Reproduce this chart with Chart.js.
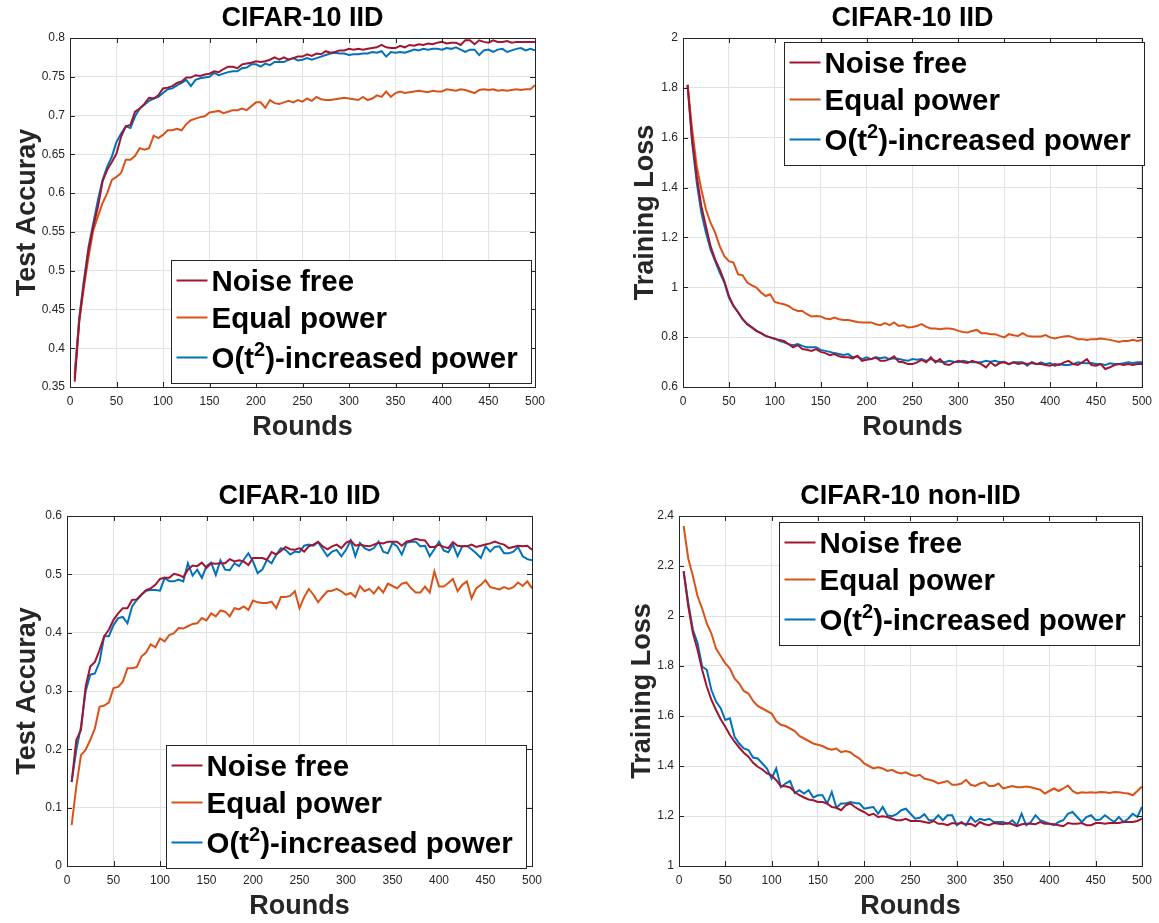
<!DOCTYPE html>
<html>
<head>
<meta charset="utf-8">
<title>CIFAR-10 power allocation curves</title>
<script src="https://cdn.jsdelivr.net/npm/chart.js@4.4.1/dist/chart.umd.min.js"></script>
<style>
  html, body { margin: 0; padding: 0; background: #ffffff; }
  #page { position: relative; width: 1159px; height: 923px; overflow: hidden; background: #ffffff; }
  .panel { position: absolute; }
</style>
</head>
<body>
<div id="page">
  <div class="panel" style="left:0px;top:0px;width:580px;height:444px"><canvas id="accIidChart"></canvas></div>
  <div class="panel" style="left:618px;top:0px;width:541px;height:444px"><canvas id="lossIidChart"></canvas></div>
  <div class="panel" style="left:0px;top:478px;width:580px;height:445px"><canvas id="accIid2Chart"></canvas></div>
  <div class="panel" style="left:615px;top:478px;width:544px;height:445px"><canvas id="lossNonIidChart"></canvas></div>
</div>
<script>
// ---- Data ----
const rounds = [5,10,15,20,25,30,35,40,45,50,55,60,65,70,75,80,85,90,95,100,
  105,110,115,120,125,130,135,140,145,150,155,160,165,170,175,180,185,190,195,200,
  205,210,215,220,225,230,235,240,245,250,255,260,265,270,275,280,285,290,295,300,
  305,310,315,320,325,330,335,340,345,350,355,360,365,370,375,380,385,390,395,400,
  405,410,415,420,425,430,435,440,445,450,455,460,465,470,475,480,485,490,495,500];

const seriesNames = ['Noise free', 'Equal power', 'O(t^2)-increased power'];
const seriesColors = ['#A2142F', '#D95319', '#0072BD'];
const xTicks = [0, 50, 100, 150, 200, 250, 300, 350, 400, 450, 500];

// Top left: CIFAR-10 IID, test accuracy
const accIidNoiseFree = [0.357,0.436,0.484,0.527,0.557,0.582,0.615,0.630,0.640,0.651,
  0.673,0.686,0.688,0.705,0.709,0.715,0.723,0.722,0.726,0.735,
  0.736,0.738,0.742,0.744,0.749,0.749,0.752,0.751,0.753,0.754,
  0.757,0.756,0.760,0.763,0.763,0.761,0.766,0.767,0.768,0.770,
  0.769,0.770,0.772,0.775,0.772,0.775,0.772,0.774,0.776,0.776,
  0.779,0.777,0.780,0.779,0.783,0.781,0.782,0.784,0.784,0.786,
  0.785,0.786,0.785,0.786,0.787,0.788,0.791,0.788,0.787,0.787,
  0.790,0.788,0.791,0.790,0.792,0.791,0.793,0.792,0.794,0.795,
  0.793,0.794,0.794,0.791,0.797,0.797,0.792,0.797,0.795,0.794,
  0.797,0.795,0.795,0.796,0.794,0.795,0.795,0.795,0.795,0.795];
const accIidEqual = [0.362,0.436,0.479,0.518,0.552,0.570,0.587,0.600,0.617,0.621,
  0.626,0.643,0.643,0.648,0.658,0.656,0.658,0.674,0.671,0.675,
  0.681,0.681,0.683,0.681,0.689,0.694,0.696,0.698,0.699,0.704,
  0.705,0.706,0.703,0.705,0.707,0.707,0.709,0.707,0.712,0.717,
  0.717,0.710,0.720,0.716,0.715,0.717,0.719,0.717,0.720,0.718,
  0.722,0.719,0.724,0.721,0.720,0.720,0.721,0.722,0.723,0.722,
  0.721,0.720,0.724,0.720,0.722,0.726,0.724,0.731,0.724,0.729,
  0.731,0.729,0.730,0.731,0.732,0.731,0.730,0.732,0.731,0.731,
  0.734,0.733,0.732,0.734,0.733,0.731,0.729,0.733,0.734,0.733,
  0.734,0.732,0.733,0.732,0.733,0.734,0.733,0.734,0.734,0.739];
const accIidIncreased = [0.367,0.440,0.488,0.531,0.561,0.591,0.617,0.634,0.647,0.666,
  0.677,0.686,0.684,0.699,0.709,0.714,0.719,0.722,0.724,0.729,
  0.734,0.735,0.739,0.742,0.746,0.738,0.746,0.748,0.749,0.750,
  0.755,0.752,0.754,0.756,0.757,0.757,0.761,0.762,0.766,0.766,
  0.763,0.767,0.765,0.769,0.769,0.769,0.772,0.774,0.771,0.772,
  0.774,0.772,0.774,0.776,0.778,0.780,0.781,0.780,0.780,0.778,
  0.779,0.779,0.780,0.780,0.782,0.781,0.783,0.776,0.782,0.781,
  0.782,0.781,0.783,0.785,0.784,0.786,0.785,0.786,0.786,0.785,
  0.787,0.786,0.788,0.785,0.782,0.785,0.785,0.778,0.784,0.785,
  0.782,0.785,0.786,0.782,0.784,0.786,0.787,0.784,0.786,0.784];
const accIidTicks = [0.35, 0.4, 0.45, 0.5, 0.55, 0.6, 0.65, 0.7, 0.75, 0.8];

// Top right: CIFAR-10 IID, training loss
const lossIidNoiseFree = [1.812,1.592,1.445,1.325,1.245,1.165,1.112,1.072,1.025,0.965,
  0.925,0.899,0.872,0.852,0.839,0.825,0.816,0.805,0.799,0.792,
  0.789,0.785,0.772,0.759,0.768,0.752,0.749,0.745,0.752,0.741,
  0.736,0.728,0.732,0.723,0.719,0.719,0.715,0.725,0.705,0.709,
  0.712,0.719,0.705,0.705,0.712,0.723,0.701,0.699,0.692,0.692,
  0.699,0.709,0.699,0.719,0.699,0.712,0.692,0.688,0.699,0.705,
  0.699,0.696,0.705,0.699,0.692,0.679,0.699,0.685,0.696,0.699,
  0.692,0.699,0.692,0.696,0.692,0.696,0.692,0.692,0.688,0.685,
  0.692,0.688,0.699,0.705,0.692,0.688,0.699,0.712,0.688,0.685,
  0.692,0.672,0.679,0.688,0.692,0.688,0.692,0.688,0.692,0.692];
const lossIidEqual = [1.812,1.632,1.485,1.392,1.312,1.259,1.219,1.165,1.125,1.105,
  1.099,1.052,1.048,1.019,1.008,0.999,0.979,0.965,0.972,0.941,
  0.936,0.932,0.925,0.912,0.905,0.905,0.892,0.883,0.885,0.883,
  0.875,0.872,0.879,0.872,0.869,0.869,0.865,0.861,0.859,0.859,
  0.859,0.852,0.848,0.856,0.848,0.859,0.845,0.848,0.839,0.841,
  0.845,0.852,0.841,0.835,0.835,0.832,0.835,0.835,0.832,0.825,
  0.821,0.819,0.825,0.829,0.816,0.816,0.812,0.812,0.805,0.799,
  0.812,0.808,0.805,0.816,0.805,0.803,0.803,0.803,0.808,0.799,
  0.795,0.799,0.803,0.805,0.799,0.792,0.792,0.789,0.792,0.792,
  0.795,0.792,0.789,0.785,0.781,0.785,0.785,0.789,0.785,0.789];
const lossIidIncreased = [1.812,1.579,1.419,1.299,1.219,1.152,1.105,1.059,1.019,0.959,
  0.925,0.901,0.872,0.852,0.839,0.825,0.816,0.805,0.799,0.795,
  0.785,0.779,0.772,0.768,0.772,0.765,0.759,0.759,0.759,0.749,
  0.745,0.741,0.736,0.732,0.728,0.732,0.719,0.723,0.712,0.719,
  0.712,0.719,0.715,0.719,0.712,0.715,0.712,0.708,0.705,0.712,
  0.709,0.712,0.705,0.712,0.705,0.701,0.699,0.705,0.701,0.699,
  0.705,0.701,0.699,0.699,0.699,0.705,0.701,0.705,0.699,0.701,
  0.692,0.699,0.699,0.699,0.685,0.701,0.692,0.699,0.692,0.696,
  0.685,0.692,0.688,0.688,0.692,0.699,0.696,0.695,0.696,0.692,
  0.692,0.688,0.695,0.692,0.692,0.695,0.699,0.696,0.699,0.699];
const lossIidTicks = [0.6, 0.8, 1, 1.2, 1.4, 1.6, 1.8, 2];

// Bottom left: CIFAR-10 IID (second model), test accuracy
const accIid2NoiseFree = [0.144,0.216,0.233,0.307,0.342,0.350,0.370,0.394,0.405,0.422,
  0.433,0.442,0.442,0.456,0.457,0.465,0.473,0.476,0.482,0.492,
  0.494,0.494,0.501,0.499,0.495,0.508,0.515,0.514,0.520,0.511,
  0.519,0.518,0.519,0.519,0.526,0.522,0.524,0.522,0.516,0.528,
  0.528,0.528,0.525,0.538,0.534,0.540,0.547,0.543,0.542,0.545,
  0.539,0.548,0.551,0.556,0.548,0.543,0.548,0.551,0.545,0.554,
  0.558,0.549,0.551,0.549,0.548,0.551,0.554,0.553,0.556,0.556,
  0.556,0.549,0.556,0.558,0.561,0.559,0.558,0.547,0.547,0.551,
  0.547,0.545,0.555,0.549,0.548,0.548,0.551,0.547,0.549,0.551,
  0.553,0.556,0.553,0.551,0.545,0.547,0.549,0.548,0.549,0.542];
const accIid2Equal = [0.070,0.136,0.190,0.199,0.216,0.236,0.273,0.275,0.280,0.305,
  0.307,0.316,0.339,0.339,0.341,0.359,0.366,0.380,0.375,0.390,
  0.385,0.396,0.399,0.408,0.407,0.411,0.415,0.416,0.425,0.421,
  0.433,0.428,0.438,0.436,0.428,0.442,0.440,0.445,0.439,0.455,
  0.452,0.451,0.451,0.453,0.442,0.461,0.461,0.463,0.471,0.442,
  0.461,0.475,0.465,0.452,0.462,0.471,0.472,0.475,0.471,0.465,
  0.468,0.461,0.480,0.471,0.475,0.467,0.478,0.469,0.484,0.480,
  0.476,0.484,0.486,0.476,0.469,0.469,0.479,0.469,0.505,0.479,
  0.479,0.485,0.492,0.471,0.482,0.488,0.459,0.476,0.482,0.490,
  0.478,0.476,0.474,0.478,0.475,0.478,0.486,0.480,0.488,0.476];
const accIid2Increased = [0.144,0.199,0.239,0.299,0.328,0.330,0.350,0.394,0.394,0.413,
  0.425,0.427,0.416,0.445,0.456,0.465,0.472,0.473,0.473,0.472,
  0.494,0.488,0.488,0.491,0.488,0.519,0.498,0.508,0.494,0.514,
  0.520,0.499,0.524,0.508,0.507,0.519,0.514,0.525,0.536,0.522,
  0.502,0.508,0.525,0.519,0.534,0.545,0.542,0.534,0.539,0.538,
  0.549,0.551,0.549,0.555,0.543,0.531,0.539,0.542,0.531,0.542,
  0.558,0.531,0.554,0.545,0.541,0.545,0.556,0.539,0.536,0.554,
  0.548,0.534,0.554,0.556,0.556,0.548,0.549,0.531,0.543,0.556,
  0.541,0.538,0.551,0.531,0.548,0.549,0.543,0.536,0.528,0.548,
  0.539,0.547,0.548,0.536,0.536,0.539,0.547,0.531,0.526,0.524];
const accIid2Ticks = [0, 0.1, 0.2, 0.3, 0.4, 0.5, 0.6];

// Bottom right: CIFAR-10 non-IID, training loss
const lossNonIidNoiseFree = [2.179,2.039,1.932,1.865,1.785,1.718,1.664,1.624,1.587,1.557,
  1.524,1.497,1.474,1.453,1.437,1.413,1.397,1.386,1.370,1.363,
  1.343,1.319,1.319,1.314,1.296,1.283,1.274,1.266,1.263,1.256,
  1.256,1.250,1.236,1.233,1.223,1.243,1.250,1.236,1.225,1.216,
  1.203,1.209,1.196,1.199,1.196,1.189,1.183,1.183,1.189,1.180,
  1.180,1.180,1.176,1.172,1.180,1.169,1.169,1.163,1.172,1.169,
  1.172,1.167,1.169,1.159,1.176,1.167,1.163,1.172,1.169,1.167,
  1.172,1.167,1.159,1.167,1.169,1.169,1.167,1.176,1.169,1.169,
  1.167,1.163,1.159,1.172,1.169,1.169,1.172,1.163,1.163,1.172,
  1.172,1.169,1.172,1.172,1.172,1.176,1.176,1.176,1.180,1.189];
const lossNonIidEqual = [2.36,2.23,2.16,2.08,2.03,1.97,1.93,1.87,1.84,1.81,
  1.79,1.75,1.73,1.70,1.69,1.66,1.64,1.63,1.62,1.61,
  1.58,1.565,1.56,1.55,1.54,1.52,1.51,1.50,1.49,1.485,
  1.48,1.47,1.465,1.47,1.455,1.46,1.455,1.44,1.43,1.41,
  1.40,1.39,1.395,1.39,1.38,1.385,1.375,1.37,1.375,1.365,
  1.36,1.365,1.35,1.345,1.34,1.33,1.335,1.34,1.325,1.325,
  1.33,1.345,1.325,1.32,1.33,1.335,1.32,1.32,1.33,1.31,
  1.315,1.32,1.315,1.315,1.318,1.315,1.31,1.305,1.29,1.30,
  1.31,1.30,1.31,1.322,1.30,1.29,1.295,1.293,1.295,1.293,
  1.296,1.295,1.292,1.296,1.295,1.292,1.29,1.283,1.30,1.318];
const lossNonIidIncreased = [2.179,2.052,1.945,1.892,1.798,1.785,1.704,1.658,1.631,1.584,
  1.591,1.517,1.490,1.470,1.464,1.434,1.430,1.410,1.390,1.350,
  1.390,1.316,1.330,1.340,1.292,1.303,1.290,1.303,1.274,1.283,
  1.283,1.250,1.296,1.233,1.250,1.250,1.256,1.252,1.250,1.229,
  1.233,1.236,1.209,1.236,1.203,1.199,1.207,1.223,1.229,1.209,
  1.189,1.193,1.207,1.183,1.183,1.203,1.183,1.203,1.203,1.163,
  1.176,1.163,1.196,1.176,1.189,1.183,1.189,1.176,1.176,1.176,
  1.169,1.183,1.163,1.209,1.163,1.176,1.203,1.183,1.176,1.169,
  1.163,1.176,1.183,1.209,1.216,1.196,1.176,1.196,1.203,1.183,
  1.186,1.203,1.189,1.176,1.196,1.176,1.189,1.209,1.196,1.236];
const lossNonIidTicks = [1, 1.2, 1.4, 1.6, 1.8, 2, 2.2, 2.4];

// ---- Styling ----
const FONT = "'Liberation Sans', Arial, Helvetica, sans-serif";
const AXIS_COLOR = '#262626';
const GRID_COLOR = '#e3e3e3';
const TICK_LEN = 5;

// MATLAB style box with inward tick marks on all four sides
const matlabAxes = {
    id: 'matlabAxes',
    afterDatasetsDraw(chart) {
        const { ctx, chartArea: a, scales: { x, y } } = chart;
        ctx.save();
        ctx.strokeStyle = AXIS_COLOR;
        ctx.lineWidth = 1;
        ctx.beginPath();
        x.ticks.forEach(t => {
            const px = Math.round(x.getPixelForValue(t.value)) + 0.5;
            ctx.moveTo(px, a.bottom); ctx.lineTo(px, a.bottom - TICK_LEN);
            ctx.moveTo(px, a.top); ctx.lineTo(px, a.top + TICK_LEN);
        });
        y.ticks.forEach(t => {
            const py = Math.round(y.getPixelForValue(t.value)) + 0.5;
            ctx.moveTo(a.left, py); ctx.lineTo(a.left + TICK_LEN, py);
            ctx.moveTo(a.right, py); ctx.lineTo(a.right - TICK_LEN, py);
        });
        ctx.stroke();
        ctx.strokeRect(Math.round(a.left) + 0.5, Math.round(a.top) + 0.5,
            Math.round(a.right - a.left), Math.round(a.bottom - a.top));
        ctx.restore();
    }
};

// text with "^2" turned into a superscript
function drawRichText(ctx, text, x, y, size) {
    const parts = text.split(/\^(\d)/);
    let cx = x;
    parts.forEach((p, i) => {
        const sup = i % 2 === 1;
        ctx.font = `bold ${sup ? Math.round(size * 0.68) : size}px ${FONT}`;
        ctx.fillText(p, cx, sup ? y - size * 0.42 : y);
        cx += ctx.measureText(p).width;
    });
}

// legend drawn inside the axes, like MATLAB
const boxLegend = {
    id: 'boxLegend',
    afterDraw(chart, args, opts) {
        const { ctx, chartArea: a } = chart;
        const left = Math.round(a.left + opts.dx) + 0.5;
        const top = Math.round(a.top + opts.dy) + 0.5;
        ctx.save();
        ctx.fillStyle = '#ffffff';
        ctx.fillRect(left, top, opts.width, opts.height);
        ctx.strokeStyle = AXIS_COLOR;
        ctx.lineWidth = 1;
        ctx.strokeRect(left, top, opts.width, opts.height);
        chart.data.datasets.forEach((ds, i) => {
            const ry = top + opts.rows[i];
            ctx.strokeStyle = ds.borderColor;
            ctx.lineWidth = 2;
            ctx.beginPath();
            ctx.moveTo(left + 5, ry);
            ctx.lineTo(left + 36, ry);
            ctx.stroke();
            ctx.fillStyle = '#000000';
            ctx.textBaseline = 'alphabetic';
            drawRichText(ctx, ds.label, left + 40, ry + 10.5, opts.fontSize);
        });
        ctx.restore();
    }
};

function makeChart(canvasId, cfg) {
    const ctx = document.getElementById(canvasId).getContext('2d');
    const values = [cfg.noiseFree, cfg.equal, cfg.increased];
    return new Chart(ctx, {
        type: 'line',
        data: {
            labels: rounds,
            datasets: values.map((v, i) => ({
                label: seriesNames[i],
                data: v,
                borderColor: seriesColors[i],
                backgroundColor: seriesColors[i],
                borderWidth: 2,
                pointRadius: 0,
                tension: 0,
                fill: false
            }))
        },
        options: {
            responsive: true,
            maintainAspectRatio: false,
            animation: false,
            layout: { padding: { left: 0, right: cfg.padRight, top: 0, bottom: 0 } },
            plugins: {
                legend: { display: false },
                tooltip: { enabled: false },
                title: {
                    display: true,
                    text: cfg.title,
                    fullSize: false,
                    color: '#000000',
                    font: { family: FONT, size: 27, weight: 'bold', lineHeight: '30px' },
                    padding: { top: 4, bottom: 4 }
                },
                boxLegend: cfg.legend
            },
            scales: {
                x: {
                    type: 'linear',
                    min: 0,
                    max: 500,
                    afterBuildTicks: s => { s.ticks = xTicks.map(v => ({ value: v })); },
                    afterFit: s => { s.height = cfg.xAxisHeight; },
                    grid: { color: GRID_COLOR, drawTicks: false },
                    border: { display: false },
                    ticks: { color: AXIS_COLOR, padding: 7, maxRotation: 0, font: { family: FONT, size: 12 } },
                    title: {
                        display: true,
                        text: 'Rounds',
                        color: AXIS_COLOR,
                        font: { family: FONT, size: 27, weight: 'bold', lineHeight: '32px' },
                        padding: { top: 0, bottom: 0 }
                    }
                },
                y: {
                    type: 'linear',
                    min: cfg.yTicks[0],
                    max: cfg.yTicks[cfg.yTicks.length - 1],
                    afterBuildTicks: s => { s.ticks = cfg.yTicks.map(v => ({ value: v })); },
                    afterFit: s => { s.width = cfg.yAxisWidth; },
                    grid: { color: GRID_COLOR, drawTicks: false },
                    border: { display: false },
                    ticks: {
                        color: AXIS_COLOR,
                        padding: 5,
                        font: { family: FONT, size: 12 },
                        callback: v => String(Number(v.toFixed(2)))
                    },
                    title: {
                        display: true,
                        text: cfg.yTitle,
                        color: AXIS_COLOR,
                        font: { family: FONT, size: 27, weight: 'bold', lineHeight: '32px' },
                        padding: { top: 12, bottom: 0 }
                    }
                }
            }
        },
        plugins: [matlabAxes, boxLegend]
    });
}

const legendRows = [20, 57, 97];

makeChart('accIidChart', {
    title: 'CIFAR-10 IID', yTitle: 'Test Accuray',
    noiseFree: accIidNoiseFree, equal: accIidEqual, increased: accIidIncreased,
    yTicks: accIidTicks, yAxisWidth: 70, xAxisHeight: 57, padRight: 45,
    legend: { dx: 101, dy: 222, width: 360, height: 123, rows: legendRows, fontSize: 29.5 }
});
makeChart('lossIidChart', {
    title: 'CIFAR-10 IID', yTitle: 'Training Loss',
    noiseFree: lossIidNoiseFree, equal: lossIidEqual, increased: lossIidIncreased,
    yTicks: lossIidTicks, yAxisWidth: 65, xAxisHeight: 57, padRight: 13,
    legend: { dx: 101, dy: 4, width: 360, height: 123, rows: legendRows, fontSize: 29.5 }
});
makeChart('accIid2Chart', {
    title: 'CIFAR-10 IID', yTitle: 'Test Accuray',
    noiseFree: accIid2NoiseFree, equal: accIid2Equal, increased: accIid2Increased,
    yTicks: accIid2Ticks, yAxisWidth: 67, xAxisHeight: 57, padRight: 48,
    legend: { dx: 99, dy: 229, width: 360, height: 123, rows: legendRows, fontSize: 29.5 }
});
makeChart('lossNonIidChart', {
    title: 'CIFAR-10 non-IID', yTitle: 'Training Loss',
    noiseFree: lossNonIidNoiseFree, equal: lossNonIidEqual, increased: lossNonIidIncreased,
    yTicks: lossNonIidTicks, yAxisWidth: 64, xAxisHeight: 57, padRight: 16,
    legend: { dx: 100, dy: 6, width: 360, height: 123, rows: legendRows, fontSize: 29.5 }
});
</script>
</body>
</html>
